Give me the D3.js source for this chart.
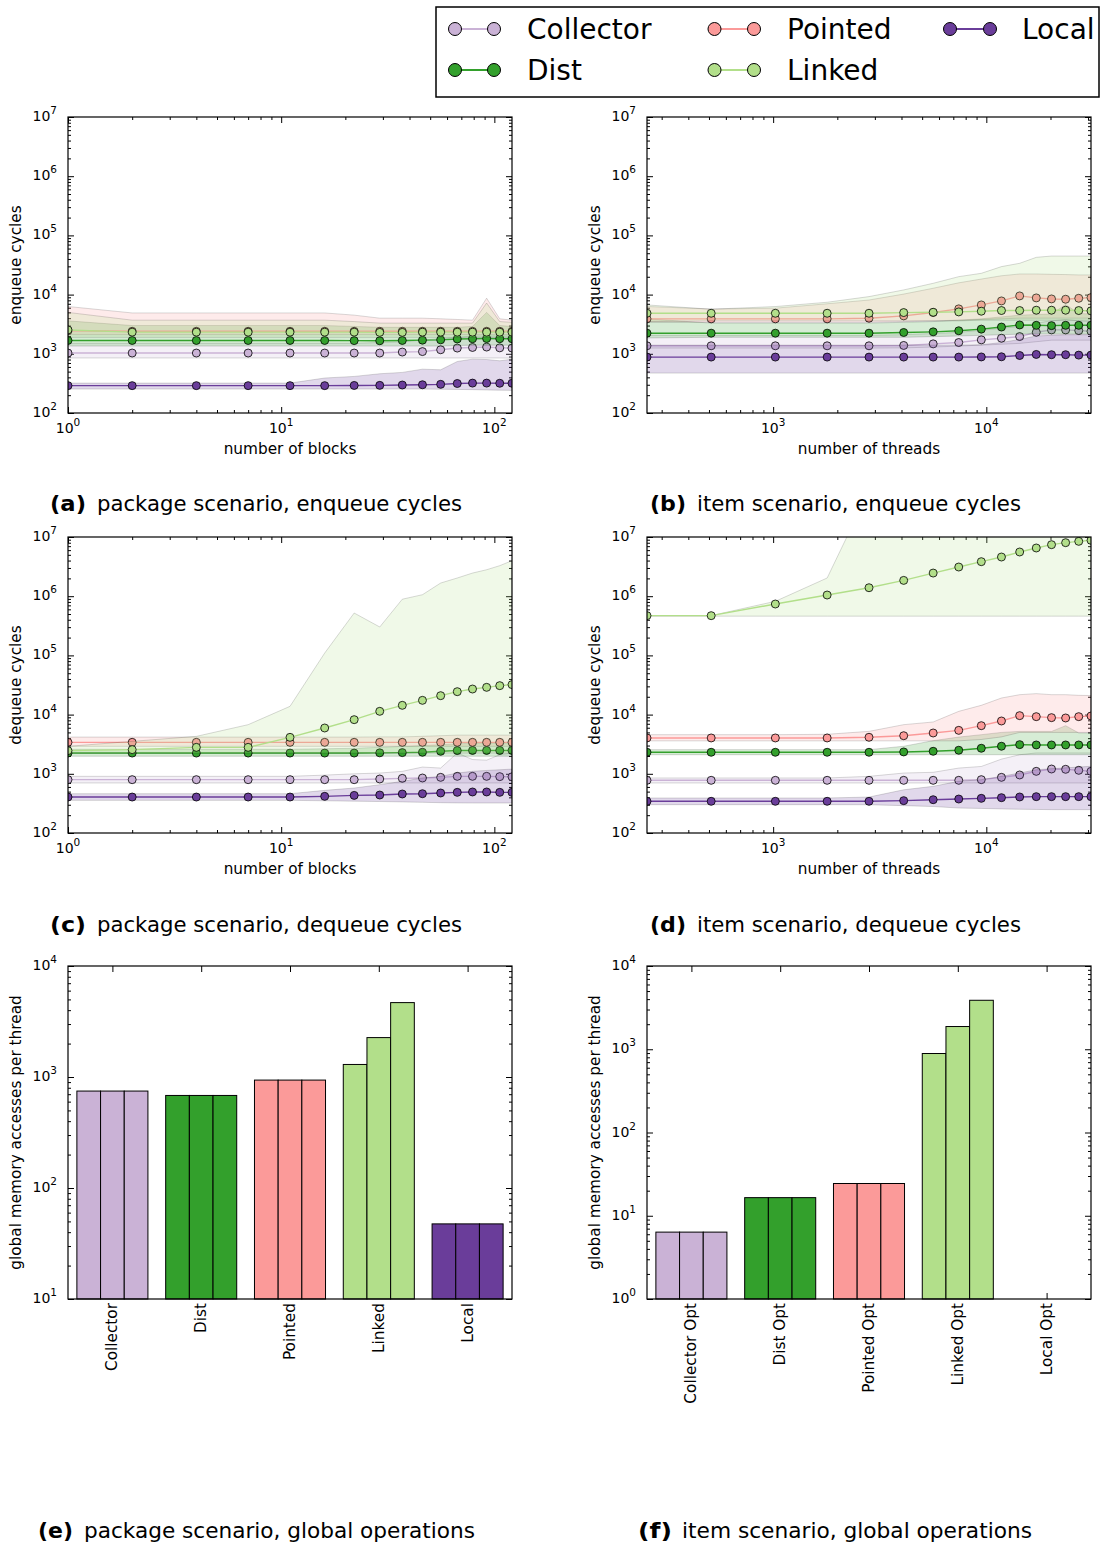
<!DOCTYPE html>
<html><head><meta charset="utf-8">
<script src="https://cdn.jsdelivr.net/npm/d3@7"></script>
<style>body{margin:0;background:#fff} svg{display:block} text{font-family:"DejaVu Sans",sans-serif}</style>
</head><body>
<svg id="chart" width="1101" height="1546"></svg>
<script>
// ---------------- DATA ----------------
const seriesNames = ["Collector","Dist","Pointed","Linked","Local"];
const blocks = [1,2,4,7,11,16,22,29,37,46,56,67,79,92,106,121];
const threads = [256,512,1024,1792,2816,4096,5632,7424,9472,11776,14336,17152,20224,23552,27136,30976];
const cycleTicks = [1e2,1e3,1e4,1e5,1e6,1e7];

// (a) package scenario, enqueue cycles
const enqPkgCollector   = [1030,1030,1030,1030,1030,1030,1030,1030,1070,1090,1170,1250,1280,1300,1260,1250];
const enqPkgCollectorLo = [850,850,850,850,850,850,850,850,850,850,850,850,850,850,850,845];
const enqPkgCollectorHi = [1500,1500,1500,1500,1500,1500,1500,1550,1600,1700,1800,1900,2000,2000,2000,2000];
const enqPkgDist        = [1680,1680,1680,1680,1680,1680,1670,1660,1680,1700,1720,1780,1800,1810,1800,1800];
const enqPkgDistLo      = [1350,1350,1350,1350,1350,1350,1350,1350,1350,1350,1350,1380,1400,1400,1400,1400];
const enqPkgDistHi      = [3600,3000,3000,3000,3000,3000,2900,2800,2800,2800,2800,2800,2900,5000,3000,2900];
const enqPkgPointed     = [2450,2400,2400,2400,2400,2400,2400,2400,2400,2400,2400,2400,2400,2400,2400,2400];
const enqPkgPointedLo   = [2100,2100,2100,2100,2100,2100,2100,2100,2100,2100,2100,2100,2100,2100,2100,2100];
const enqPkgPointedHi   = [6300,4900,4900,4900,4900,4900,4500,4000,4000,4000,3900,3800,3700,8700,3900,3700];
const enqPkgLinked      = [2530,2320,2320,2320,2320,2320,2320,2300,2300,2320,2320,2320,2320,2320,2320,2320];
const enqPkgLinkedLo    = [1900,1900,1900,1900,1900,1900,1900,1900,1900,1900,1900,1900,1900,1900,1900,1900];
const enqPkgLinkedHi    = [5000,3700,3700,3700,3700,3700,3500,3300,3300,3300,3300,3300,3300,7200,3500,3400];
const enqPkgLocal       = [290,290,290,290,290,290,292,293,297,300,305,315,320,320,318,318];
const enqPkgLocalLo     = [254,254,254,254,254,254,254,254,254,254,252,250,248,245,243,241];
const enqPkgLocalHi     = [320,320,320,320,320,390,415,460,485,550,537,742,812,800,762,810];

// (b) item scenario, enqueue cycles
const enqItemCollector   = [1365,1365,1365,1365,1365,1383,1472,1551,1719,1833,1955,2308,2532,2532,2467,2404];
const enqItemCollectorLo = [1250,1250,1250,1250,1250,1260,1300,1350,1400,1450,1500,1600,1700,1700,1700,1700];
const enqItemCollectorHi = [2050,2050,2050,2050,2050,2100,2200,2300,2500,2700,2900,3300,3600,3800,3600,3500];
const enqItemDist        = [2230,2230,2230,2230,2230,2290,2350,2450,2610,2830,3070,3030,2990,3030,3030,3030];
const enqItemDistLo      = [1850,1900,1900,1900,1900,1900,1950,2000,2050,2100,2150,2150,2150,2150,2150,2150];
const enqItemDistHi      = [3900,3300,3300,3300,3300,3400,3500,3700,3900,4200,4500,4600,4700,6800,4800,4700];
const enqItemPointed     = [3890,3890,3890,3890,3990,4370,4980,5740,6690,7820,9500,8790,8450,8350,8670,8900];
const enqItemPointedLo   = [3400,3400,3400,3400,3400,3500,3600,3700,3800,3900,4000,4000,4000,4000,4000,4000];
const enqItemPointedHi   = [6300,5700,5900,7000,8100,10200,12800,15800,18300,20800,22300,22300,22000,21800,21500,21500];
const enqItemLinked      = [4840,4840,4840,4840,4840,4970,5030,5100,5240,5380,5380,5450,5450,5450,5380,5310];
const enqItemLinkedLo    = [3500,3600,3600,3600,3600,3600,3600,3600,3700,3700,3700,3700,3700,3700,3700,3700];
const enqItemLinkedHi    = [6690,5670,6280,7430,9250,11990,15530,20100,22900,29700,33800,42600,44800,44800,44800,44800];
const enqItemLocal       = [880,880,880,880,880,880,880,880,885,890,935,975,965,965,950,950];
const enqItemLocalLo     = [472,472,472,472,472,472,472,472,472,472,472,472,472,472,472,472];
const enqItemLocalHi     = [1400,1400,1400,1400,1400,1400,1400,1400,1420,1550,1750,2000,2050,2100,2100,2100];

// (c) package scenario, dequeue cycles
const deqPkgCollector   = [796,796,796,796,796,796,796,817,838,849,871,906,906,906,895,889];
const deqPkgCollectorLo = [700,700,700,700,700,700,700,700,700,700,700,700,700,700,700,700];
const deqPkgCollectorHi = [906,906,906,906,906,950,1000,1030,1100,1300,1250,2250,1740,1700,2100,2250];
const deqPkgDist        = [2240,2240,2240,2240,2240,2240,2240,2260,2280,2310,2400,2470,2480,2480,2480,2480];
const deqPkgDistLo      = [1980,1980,1980,1980,1980,1980,1980,1980,1980,1980,1980,1980,1980,1980,1980,1980];
const deqPkgDistHi      = [2600,2600,2600,2600,2600,2650,2700,2800,2900,3000,3100,3200,3300,3300,3300,3300];
const deqPkgPointed     = [3400,3400,3400,3400,3400,3400,3400,3400,3400,3400,3400,3400,3400,3400,3400,3400];
const deqPkgPointedLo   = [2910,2910,2910,2910,2910,2910,2910,2910,2910,2910,2910,2910,2910,2910,2910,2910];
const deqPkgPointedHi   = [4170,4170,4170,4170,4170,4170,4170,4200,4200,4300,4400,4500,4500,4500,4500,4500];
const deqPkgLinked      = [2460,2560,2800,2800,4130,5940,8210,11360,14350,17420,20880,24390,27050,28880,30810,32090];
const deqPkgLinkedLo    = [2240,2240,2240,2240,2240,2240,2240,2240,2240,2240,2240,2240,2240,2240,2240,2240];
const deqPkgLinkedHi    = [2910,3530,4290,6760,13800,109600,520000,302000,890000,1060000,1670000,2030000,2460000,2800000,3280000,3980000];
const deqPkgLocal       = [405,405,405,405,405,416,432,438,456,461,474,486,493,493,486,486];
const deqPkgLocalLo     = [356,356,356,356,356,350,345,340,335,330,325,322,321,321,321,321];
const deqPkgLocalHi     = [461,461,461,461,461,525,575,655,745,850,906,1030,1100,1140,1170,1200];

// (d) item scenario, dequeue cycles
const deqItemCollector   = [776,776,776,776,776,776,776,776,796,871,955,1100,1205,1190,1145,1100];
const deqItemCollectorLo = [700,700,700,700,700,700,700,700,700,700,700,700,700,700,700,700];
const deqItemCollectorHi = [850,850,850,850,905,1030,1060,1250,1330,1770,2100,2250,2250,2250,2250,2250];
const deqItemDist        = [2310,2310,2310,2310,2310,2340,2400,2500,2700,2920,3110,3070,3070,3070,3070,3070];
const deqItemDistLo      = [2100,2100,2100,2100,2100,2100,2100,2100,2100,2100,2100,2100,2100,2100,2100,2100];
const deqItemDistHi      = [2560,2560,2560,2560,2560,2920,3630,4170,4580,5000,5200,5200,5200,6500,4900,4900];
const deqItemPointed     = [4030,4030,4030,4030,4140,4400,4890,5420,6500,7800,9600,9230,8880,8770,9230,9480];
const deqItemPointedLo   = [3600,3600,3600,3600,3600,3600,3600,3600,3800,4200,5000,5000,5000,5000,5000,5000];
const deqItemPointedHi   = [4580,4580,4580,4650,5210,6760,7500,11350,14350,19070,21700,22600,21700,21700,21150,21000];
const deqItemLinked      = [469000,469000,738000,1047000,1390000,1850000,2460000,3110000,3830000,4590000,5580000,6520000,7420000,8020000,8450000,8790000];
const deqItemLinkedLo    = [460000,460000,460000,460000,460000,460000,460000,460000,460000,460000,460000,460000,460000,460000,460000,460000];
const deqItemLinkedHi    = [470000,470000,820000,2030000,60000000,80000000,90000000,90000000,90000000,90000000,90000000,90000000,90000000,90000000,90000000,90000000];
const deqItemLocal       = [343,343,343,343,343,352,365,375,385,395,406,411,411,411,411,411];
const deqItemLocalLo     = [301,301,301,301,300,290,280,264,260,255,252,250,248,248,248,248];
const deqItemLocalHi     = [390,390,390,390,405,537,614,746,795,906,1030,1170,1220,1260,1300,1340];

// (e), (f) global memory accesses per thread
const barCategoriesPkg  = ["Collector","Dist","Pointed","Linked","Local"];
const barValuesPkg      = [[747,747,747],[682,682,682],[938,938,938],[1297,2265,4680],[47.5,47.5,47.5]];
const barCategoriesItem = ["Collector Opt","Dist Opt","Pointed Opt","Linked Opt","Local Opt"];
const barValuesItem     = [[6.36,6.36,6.36],[16.5,16.5,16.5],[24.4,24.4,24.4],[889,1875,3875],[null,null,null]];
const barTicksPkg  = [1e1,1e2,1e3,1e4];
const barTicksItem = [1e0,1e1,1e2,1e3,1e4];

const captionLabels = ["(a)","(b)","(c)","(d)","(e)","(f)"];
const captionTexts = ["package scenario, enqueue cycles","item scenario, enqueue cycles",
  "package scenario, dequeue cycles","item scenario, dequeue cycles",
  "package scenario, global operations","item scenario, global operations"];

// ---------------- STYLE ----------------
const colors = {Collector:"#cab2d6", Dist:"#33a02c", Pointed:"#fb9a99", Linked:"#b2df8a", Local:"#6a3d9a"};
const labelSize = 15.3, tickSize = 14;
const svg = d3.select("#chart");
let clipId = 0;

function minorTicks(domain){
  const out=[]; const lo=Math.floor(Math.log10(domain[0])), hi=Math.ceil(Math.log10(domain[1]));
  for(let d=lo; d<hi; d++) for(let k=2;k<10;k++){ const v=k*Math.pow(10,d); if(v>domain[0]*1.0001 && v<domain[1]*0.9999) out.push(v);}
  return out;
}
function majorTicks(domain){
  const out=[]; const lo=Math.ceil(Math.log10(domain[0])-1e-9), hi=Math.floor(Math.log10(domain[1])+1e-9);
  for(let d=lo; d<=hi; d++) out.push(Math.pow(10,d));
  return out;
}
function powLabel(sel, v){
  const e=Math.round(Math.log10(v));
  sel.text("10"); sel.append("tspan").attr("dy",-7).attr("font-size",10.5).text(e);
}
function tickAxis(g, axisFn, scale, values, size, transform){
  const a = g.append("g").attr("transform",transform||null)
    .call(axisFn(scale).tickValues(values).tickSize(-size).tickFormat(""));
  a.select(".domain").remove();
  a.selectAll("line").attr("stroke","#000").attr("stroke-width",1);
  return a;
}
function yAxisLog(g, y, w, h){
  const dom=y.domain();
  tickAxis(g, d3.axisLeft, y, majorTicks(dom), 6);
  tickAxis(g, d3.axisLeft, y, minorTicks(dom), 3);
  tickAxis(g, d3.axisRight, y, majorTicks(dom), 6, `translate(${w},0)`);
  tickAxis(g, d3.axisRight, y, minorTicks(dom), 3, `translate(${w},0)`);
  majorTicks(dom).forEach(v=>{
    g.append("text").attr("x",-11).attr("y",y(v)+4).attr("text-anchor","end")
      .attr("font-size",tickSize).call(s=>powLabel(s,v));
  });
}

function drawLinePanel(x0,y0,w,h,xs,xDomain,xLabel,yLabel,series){
  const g = svg.append("g").attr("transform",`translate(${x0},${y0})`);
  const x = d3.scaleLog().domain(xDomain).range([0,w]);
  const y = d3.scaleLog().domain([cycleTicks[0],cycleTicks[cycleTicks.length-1]]).range([h,0]);
  const id = "clip"+(clipId++);
  g.append("clipPath").attr("id",id).append("rect").attr("width",w).attr("height",h);
  yAxisLog(g,y,w,h);
  const xd=x.domain();
  tickAxis(g, d3.axisBottom, x, majorTicks(xd), 6, `translate(0,${h})`);
  tickAxis(g, d3.axisBottom, x, minorTicks(xd), 3, `translate(0,${h})`);
  tickAxis(g, d3.axisTop, x, majorTicks(xd), 6);
  tickAxis(g, d3.axisTop, x, minorTicks(xd), 3);
  majorTicks(xd).forEach(v=>{
    g.append("text").attr("x",x(v)).attr("y",h+20).attr("text-anchor","middle")
      .attr("font-size",tickSize).call(s=>powLabel(s,v));
  });
  const plot = g.append("g").attr("clip-path",`url(#${id})`);
  series.forEach(s=>{
    const c = colors[s.name];
    const area = d3.area().x((d,i)=>x(xs[i])).y0((d,i)=>y(s.lo[i])).y1((d,i)=>y(s.hi[i]));
    plot.append("path").datum(s.mean).attr("d",area).attr("fill",c).attr("fill-opacity",0.2)
      .attr("stroke","#000").attr("stroke-opacity",0.15).attr("stroke-width",1);
    const line = d3.line().x((d,i)=>x(xs[i])).y(d=>y(d));
    plot.append("path").datum(s.mean).attr("d",line).attr("fill","none").attr("stroke",c).attr("stroke-width",1.4);
    plot.selectAll(null).data(s.mean).enter().append("circle")
      .attr("cx",(d,i)=>x(xs[i])).attr("cy",d=>y(d)).attr("r",4)
      .attr("fill",c).attr("stroke","#000").attr("stroke-width",0.8);
  });
  g.append("rect").attr("width",w).attr("height",h).attr("fill","none").attr("stroke","#000").attr("stroke-width",1.2);
  g.append("text").attr("x",w/2).attr("y",h+41).attr("text-anchor","middle").attr("font-size",labelSize).text(xLabel);
  g.append("text").attr("transform",`translate(-47,${h/2}) rotate(-90)`).attr("text-anchor","middle")
    .attr("font-size",labelSize).text(yLabel);
}

function drawBarPanel(x0,y0,w,h,cats,vals,yTicks,yLabel){
  const g = svg.append("g").attr("transform",`translate(${x0},${y0})`);
  const x = d3.scaleBand().domain(cats).range([0,w]).paddingInner(0.2).paddingOuter(0.1);
  const xi = d3.scaleBand().domain([0,1,2]).range([0,x.bandwidth()]);
  const y = d3.scaleLog().domain([yTicks[0],yTicks[yTicks.length-1]]).range([h,0]);
  yAxisLog(g,y,w,h);
  const xc = d3.scalePoint().domain(cats).range([x(cats[0])+x.bandwidth()/2, x(cats[cats.length-1])+x.bandwidth()/2]);
  tickAxis(g, d3.axisBottom, xc, cats, 6, `translate(0,${h})`);
  tickAxis(g, d3.axisTop, xc, cats, 6);
  cats.forEach((cat,ci)=>{
    const c = colors[seriesNames[ci]];
    vals[ci].forEach((v,j)=>{
      if(v==null) return;
      g.append("rect").attr("x",x(cat)+xi(j)).attr("y",y(v)).attr("width",xi.bandwidth())
        .attr("height",h-y(v)).attr("fill",c).attr("stroke","#000").attr("stroke-width",1);
    });
    g.append("text").attr("transform",`translate(${xc(cat)},${h+4}) rotate(-90)`)
      .attr("text-anchor","end").attr("dy","0.33em").attr("font-size",labelSize).text(cat);
  });
  g.append("rect").attr("width",w).attr("height",h).attr("fill","none").attr("stroke","#000").attr("stroke-width",1.2);
  g.append("text").attr("transform",`translate(-47,${h/2}) rotate(-90)`).attr("text-anchor","middle")
    .attr("font-size",labelSize).text(yLabel);
}

function mk(prefix){
  const src = {
    enqPkg:[[enqPkgCollector,enqPkgCollectorLo,enqPkgCollectorHi],[enqPkgDist,enqPkgDistLo,enqPkgDistHi],[enqPkgPointed,enqPkgPointedLo,enqPkgPointedHi],[enqPkgLinked,enqPkgLinkedLo,enqPkgLinkedHi],[enqPkgLocal,enqPkgLocalLo,enqPkgLocalHi]],
    enqItem:[[enqItemCollector,enqItemCollectorLo,enqItemCollectorHi],[enqItemDist,enqItemDistLo,enqItemDistHi],[enqItemPointed,enqItemPointedLo,enqItemPointedHi],[enqItemLinked,enqItemLinkedLo,enqItemLinkedHi],[enqItemLocal,enqItemLocalLo,enqItemLocalHi]],
    deqPkg:[[deqPkgCollector,deqPkgCollectorLo,deqPkgCollectorHi],[deqPkgDist,deqPkgDistLo,deqPkgDistHi],[deqPkgPointed,deqPkgPointedLo,deqPkgPointedHi],[deqPkgLinked,deqPkgLinkedLo,deqPkgLinkedHi],[deqPkgLocal,deqPkgLocalLo,deqPkgLocalHi]],
    deqItem:[[deqItemCollector,deqItemCollectorLo,deqItemCollectorHi],[deqItemDist,deqItemDistLo,deqItemDistHi],[deqItemPointed,deqItemPointedLo,deqItemPointedHi],[deqItemLinked,deqItemLinkedLo,deqItemLinkedHi],[deqItemLocal,deqItemLocalLo,deqItemLocalHi]]
  }[prefix];
  return seriesNames.map((n,i)=>({name:n, mean:src[i][0], lo:src[i][1], hi:src[i][2]}));
}

const L={x:68,w:444}, R={x:647,w:444};
const rows=[{y:117,h:296},{y:537,h:296},{y:966,h:333}];
drawLinePanel(L.x,rows[0].y,L.w,rows[0].h,blocks,[blocks[0],blocks[blocks.length-1]],"number of blocks","enqueue cycles",mk("enqPkg"));
drawLinePanel(R.x,rows[0].y,R.w,rows[0].h,threads,[threads[0],threads[threads.length-1]],"number of threads","enqueue cycles",mk("enqItem"));
drawLinePanel(L.x,rows[1].y,L.w,rows[1].h,blocks,[blocks[0],blocks[blocks.length-1]],"number of blocks","dequeue cycles",mk("deqPkg"));
drawLinePanel(R.x,rows[1].y,R.w,rows[1].h,threads,[threads[0],threads[threads.length-1]],"number of threads","dequeue cycles",mk("deqItem"));
drawBarPanel(L.x,rows[2].y,L.w,rows[2].h,barCategoriesPkg,barValuesPkg,barTicksPkg,"global memory accesses per thread");
drawBarPanel(R.x,rows[2].y,R.w,rows[2].h,barCategoriesItem,barValuesItem,barTicksItem,"global memory accesses per thread");

// legend
const lg = svg.append("g");
lg.append("rect").attr("x",436).attr("y",7).attr("width",663).attr("height",90).attr("fill","#fff").attr("stroke","#000").attr("stroke-width",1.5);
const legCols=[{m1:455,m2:494,t:527},{m1:714.5,m2:754,t:787},{m1:950,m2:990,t:1022}];
const legRows=[29,70];
seriesNames.forEach((n,i)=>{
  const col=legCols[Math.floor(i/2)], ry=legRows[i%2];
  lg.append("line").attr("x1",col.m1).attr("x2",col.m2).attr("y1",ry).attr("y2",ry).attr("stroke",colors[n]).attr("stroke-width",2);
  [col.m1,col.m2].forEach(cx=>lg.append("circle").attr("cx",cx).attr("cy",ry).attr("r",6.5).attr("fill",colors[n]).attr("stroke","#000").attr("stroke-width",1));
  lg.append("text").attr("x",col.t).attr("y",ry+10).attr("font-size",28).text(n);
});

// captions
const capPos=[
  {lx:50,lw:36,tx:97,te:462,y:511},{lx:650,lw:36,tx:697,te:1021,y:511},
  {lx:50,lw:36,tx:97,te:462,y:932},{lx:650,lw:36,tx:697,te:1021,y:932},
  {lx:38,lw:35,tx:84,te:475,y:1538},{lx:638,lw:34,tx:682,te:1032,y:1538}];
captionLabels.forEach((lab,i)=>{
  const p=capPos[i];
  svg.append("text").attr("x",p.lx).attr("y",p.y).attr("font-family","Lato, 'DejaVu Sans', sans-serif").attr("font-weight","bold")
    .attr("font-size",22).attr("textLength",p.lw).attr("lengthAdjust","spacingAndGlyphs").text(lab);
  svg.append("text").attr("x",p.tx).attr("y",p.y).attr("font-family","Lato, 'DejaVu Sans', sans-serif")
    .attr("font-size",22).attr("textLength",p.te-p.tx).attr("lengthAdjust","spacingAndGlyphs").text(captionTexts[i]);
});
</script>
</body></html>
